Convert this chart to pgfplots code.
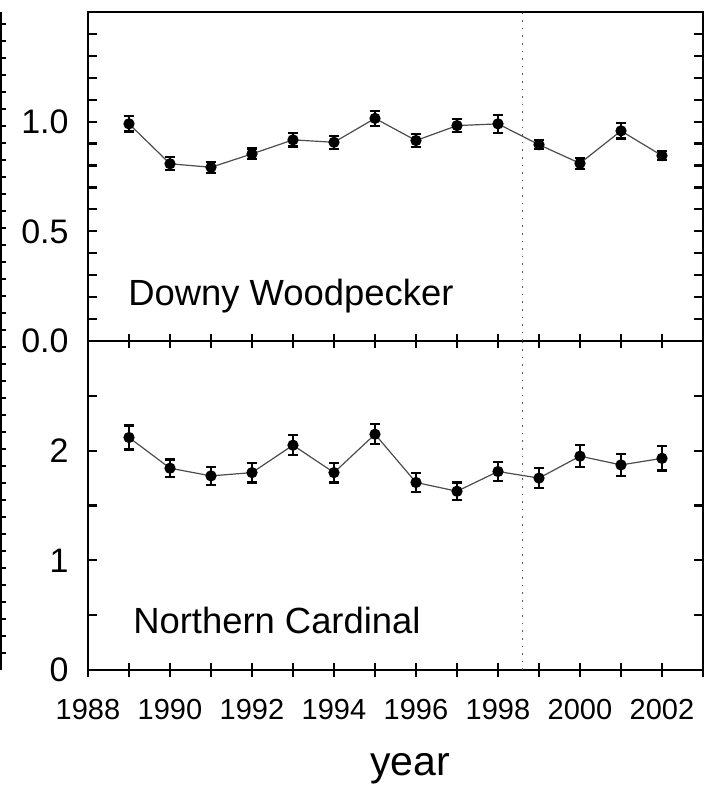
\documentclass[border=0pt]{standalone}
\usepackage{fontspec}
\setmainfont{Liberation Sans}
\usepackage{pgfplots}
\usepackage{pgfplotstable}
\pgfplotsset{compat=1.18}

% Annual index, mean and standard error
\pgfplotstableread{
year  val    err
1989  0.990  0.035
1990  0.808  0.030
1991  0.792  0.025
1992  0.853  0.025
1993  0.917  0.030
1994  0.906  0.030
1995  1.015  0.035
1996  0.914  0.030
1997  0.982  0.030
1998  0.990  0.040
1999  0.895  0.020
2000  0.810  0.025
2001  0.958  0.035
2002  0.845  0.020
}\downy

\pgfplotstableread{
year  val   err
1989  2.12  0.11
1990  1.84  0.08
1991  1.77  0.08
1992  1.80  0.09
1993  2.05  0.09
1994  1.80  0.09
1995  2.15  0.09
1996  1.71  0.09
1997  1.63  0.08
1998  1.81  0.09
1999  1.75  0.09
2000  1.95  0.10
2001  1.87  0.10
2002  1.93  0.11
}\cardinal

\tikzset{
  tag/.style={anchor=base west, inner sep=0pt, font=\fontsize{18.2}{18.2}\selectfont},
}

\pgfplotsset{
  panel/.style={
    scale only axis, width=307.5pt, height=164.5pt,
    xmin=1988, xmax=2003,
    axis line style={line width=1.4pt},
    every tick/.style={black, line width=1.1pt},
    /pgf/number format/assume math mode=true,
    tick label style={inner sep=0pt},
    xtick={1988,...,2003},
    xtick align=center,
    ytick align=inside,
    major tick length=7pt,
    minor tick length=4.5pt,
    every major y tick/.append style={draw=none},
    ytick pos=both,
    yticklabel shift=9.5pt,
    yticklabel style={font=\fontsize{17}{17}\selectfont},
    xticklabel style={font=\fontsize{14.5}{14.5}\selectfont},
  },
  series/.style={
    black!70, line width=0.6pt,
    mark=*, mark options={black, solid, mark size=2.5pt},
    error bars/.cd, y dir=both, y explicit,
    error bar style={black, line width=1.1pt},
    error mark options={rotate=90, black, mark size=2.6pt, line width=1.1pt},
  },
  breakline/.style={black!65, line width=0.6pt, dash pattern=on 0.8pt off 3pt},
}

\begin{document}
\begin{tikzpicture}
\path[use as bounding box] (-44pt,-59pt) rectangle (311pt,335pt);

% right spine of the neighbouring panel
\begin{axis}[
  scale only axis, width=5pt, height=329pt,
  at={(-43.5pt,0pt)}, anchor=south east,
  xmin=0, xmax=1, ymin=0, ymax=38.7,
  hide x axis, axis y line*=right,
  axis line style={line width=1.4pt},
  ytick={1,...,38}, yticklabels={},
  tick align=outside, major tick length=2.5pt,
  every tick/.style={black, line width=0.9pt},
]
\end{axis}

% Northern Cardinal
\begin{axis}[panel,
  at={(0pt,0pt)}, anchor=south west,
  ymin=0, ymax=3,
  ytick={0,1,2},
  minor ytick={0,0.5,...,3},
  xtick pos=bottom,
  xticklabels={1988,,1990,,1992,,1994,,1996,,1998,,2000,,2002,},
  xticklabel shift=11pt,
  xlabel={year},
  xlabel style={font=\fontsize{20.5}{20.5}\selectfont, at={(axis description cs:0.524,0)}, anchor=base, yshift=-52.5pt},
]
\addplot[breakline] coordinates {(1998.6,0) (1998.6,3)};
\addplot[series] table[x=year, y=val, y error=err] {\cardinal};
\node[tag] at (rel axis cs:0.073,0.112) {Northern Cardinal};
\end{axis}

% Downy Woodpecker
\begin{axis}[panel,
  at={(0pt,164.5pt)}, anchor=south west,
  ymin=0, ymax=1.5,
  ytick={0,0.5,1.0},
  yticklabels={0.0,0.5,1.0},
  minor ytick={0,0.1,...,1.5},
  xtick pos=bottom,
  xticklabels={},
]
\addplot[breakline] coordinates {(1998.6,0) (1998.6,1.5)};
\addplot[series] table[x=year, y=val, y error=err] {\downy};
\node[tag] at (rel axis cs:0.065,0.109) {Downy Woodpecker};
\end{axis}
\end{tikzpicture}
\end{document}
